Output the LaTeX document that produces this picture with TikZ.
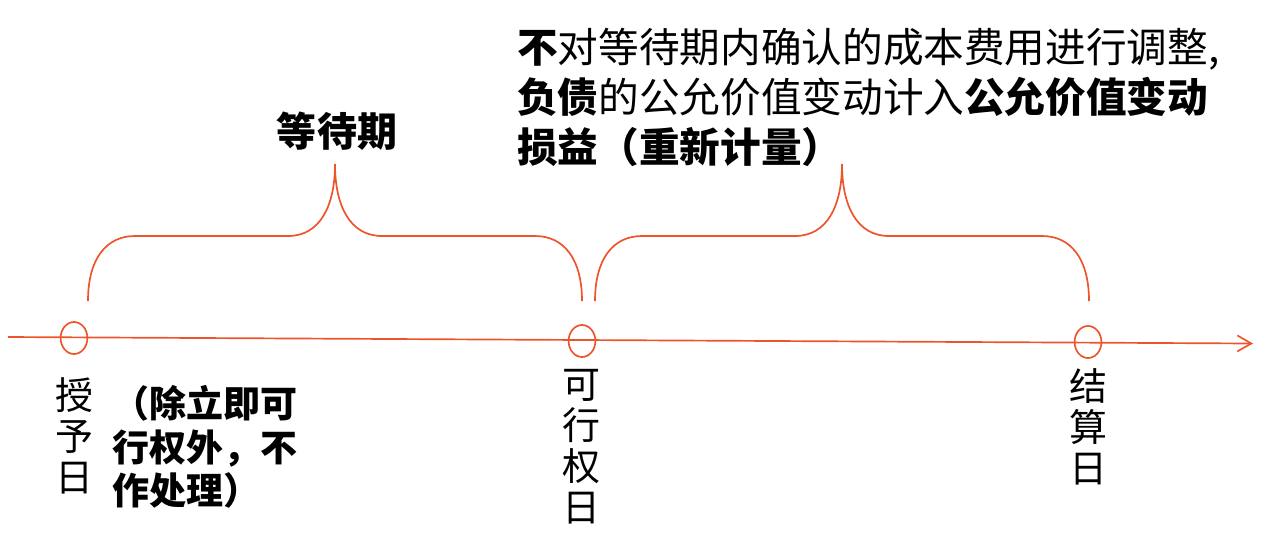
\documentclass[tikz,border=0pt]{standalone}
\usepackage{fontspec}
\setmainfont{Noto Sans CJK SC}
\usetikzlibrary{arrows.meta, shapes.geometric}
\definecolor{lineorange}{RGB}{237, 84, 44}
\tikzset{
    timeline/.style={draw=lineorange, line width=1.2pt,
        -{Straight Barb[length=0.35cm, width=0.4cm, line width=1.2pt]}},
    dayring/.style={ellipse, draw=lineorange, line width=1.2pt,
        inner sep=0pt, minimum width=0.67cm, minimum height=0.8cm},
    daylabel/.style={align=center, inner sep=0pt,
        font=\fontsize{27}{29.2}\selectfont},
    notetext/.style={align=left, inner sep=0pt},
    periodbrace/.pic={
        \draw[lineorange, line width=1.2pt] (0, 0)
            .. controls (0, -42) and (18, -65) .. (47, -65) -- (200, -65)
            .. controls (232, -65) and (247, -95) .. (247, -137)
            .. controls (247, -95) and (262, -65) .. (294, -65) -- (447, -65)
            .. controls (476, -65) and (494, -42) .. (494, 0);
    },
}
\begin{document}
\begin{tikzpicture}[x=0.025cm, y=-0.025cm]
            \useasboundingbox (0, 0) rectangle (1280, 554);
            \coordinate (axisL) at (8, 337);
            \coordinate (axisR) at (1253, 343.5);
            \draw[timeline] (axisL) -- (axisR);
            \foreach \nm/\px/\py in {grant/74/338, vest/582/341, settle/1088/342}
                \node[dayring] (\nm) at (\px, \py) {};
            \pic at (88, 301) {periodbrace};
            \pic at (595, 301) {periodbrace};
            \node[font=\fontsize{28.45}{34}\selectfont\bfseries] (waitlbl)
                at (337, 131) {等待期};
            \node[notetext, anchor=west, font=\fontsize{28.9}{35.6}\selectfont]
                (fvnote) at (517, 97)
                {\textbf{不}对等待期内确认的成本费用进行调整,\\
                 \textbf{负债}的公允价值变动计入\textbf{公允价值变动}\\
                 \textbf{损益（重新计量）}};
            \node[daylabel] (grantlbl) at (74, 436) {授\\予\\日};
            \node[notetext, anchor=west, font=\fontsize{26.3}{31}\selectfont\bfseries]
                (grantnote) at (112, 447) {（除立即可\\行权外，不\\作处理）};
            \node[daylabel] (vestlbl) at (581, 447) {可\\行\\权\\日};
            \node[daylabel] (settlelbl) at (1088, 427) {结\\算\\日};
        \end{tikzpicture}
\end{document}
